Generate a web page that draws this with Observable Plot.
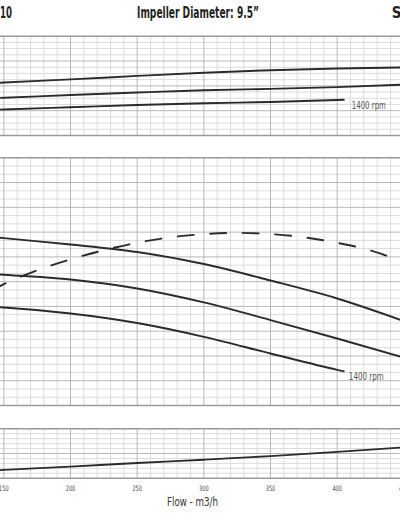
<!DOCTYPE html>
<html><head><meta charset="utf-8">
<script src="https://cdn.jsdelivr.net/npm/d3@7"></script>
<script src="https://cdn.jsdelivr.net/npm/@observablehq/plot@0.6"></script>
<style>
html,body{margin:0;padding:0;background:#fff;overflow:hidden}
#chart{position:relative;width:400px;height:516px;overflow:hidden;font-family:"Liberation Sans Narrow","Arial Narrow","DejaVu Sans Condensed",sans-serif}
.panel{position:absolute;left:0}
.hdr{position:absolute;top:4px;font-weight:bold;font-size:15px;color:#231f20;line-height:18px;white-space:nowrap}
</style></head><body><div id="chart"></div>
<script>
// ---- text ----
const titleText = "Impeller Diameter: 9.5\u201D";
const leftHeader = "10";
const rightHeader = "S";
const xLabel = "Flow - m3/h";
const speedLabel = "1400 rpm";
const flowTicks = [150, 200, 250, 300, 350, 400, 450];

// ---- power panel (top) ----
const powerFlow = [145, 150, 200, 250, 300, 350, 400, 450];
const powerHigh = [21.2, 21.35, 22.6, 24.0, 25.3, 26.3, 27.0, 27.4];
const powerMid = [15.1, 15.2, 16.3, 17.3, 18.2, 18.8, 19.5, 20.5];
const power1400Flow = [145, 150, 200, 250, 300, 350, 400, 405];
const power1400 = [10.4, 10.5, 11.4, 12.3, 13.0, 13.5, 14.3, 14.4];

// ---- head panel (middle) ----
const headFlow = [145, 150, 200, 250, 300, 350, 400, 450];
const headHigh = [20.35, 20.27, 19.5, 18.59, 17.14, 15.14, 12.96, 10.23];
const headMid = [15.9, 15.84, 15.26, 14.17, 12.49, 10.35, 8.11, 5.81];
const head1400Flow = [145, 150, 200, 250, 300, 350, 400, 405];
const head1400 = [11.92, 11.87, 11.14, 9.99, 8.32, 6.30, 4.32, 4.14];

// ---- efficiency (dashed, % ; 100% = top of head panel) ----
const effFlow = [145, 150, 175, 200, 225, 250, 275, 300, 325, 350, 375, 400, 425, 437];
const effPct = [47.6, 49.0, 54.6, 59.0, 62.7, 65.7, 67.9, 69.2, 69.7, 69.2, 67.9, 65.7, 62.6, 60.5];

// ---- NPSH panel (bottom) ----
const npshFlow = [145, 150, 200, 250, 300, 350, 400, 450];
const npsh = [1.6, 1.68, 2.35, 3.08, 3.74, 4.47, 5.32, 6.25];

const zip = (xs, ys) => xs.map((x, i) => ({x, y: ys[i]}));
const HEAD_MAX = 30;
const effToHead = HEAD_MAX / 100;

const chart = document.getElementById("chart");
const FONT = '"Liberation Sans Narrow","Arial Narrow","DejaVu Sans Condensed",sans-serif';
const minorC = "#dcdcdc", majorC = "#b8b8b8", borderC = "#9a9a9a", curveC = "#2b2b2b";
const xDomain = [147.5, 447.5];
const minorX = d3.range(150, 451, 10).filter(v => v % 50 !== 0);
const majorX = d3.range(150, 451, 50);

function grid(ymax, minorStep, majorStep) {
  const all = d3.range(0, ymax + 1e-9, minorStep).map(v => +v.toFixed(4));
  const isMajor = v => Math.abs(v / majorStep - Math.round(v / majorStep)) < 1e-6;
  return [
    Plot.ruleX(minorX, {stroke: minorC, strokeWidth: 1}),
    Plot.ruleY(all.filter(v => !isMajor(v)), {stroke: minorC, strokeWidth: 1}),
    Plot.ruleX(majorX, {stroke: majorC, strokeWidth: 1}),
    Plot.ruleY(all.filter(v => isMajor(v) && v > 0 && v < ymax - 1e-9), {stroke: majorC, strokeWidth: 1}),
    Plot.ruleY([0, ymax], {stroke: borderC, strokeWidth: 1.5})
  ];
}
const curve = (data, extra = {}) => Plot.line(data, {x: "x", y: "y", stroke: curveC, strokeWidth: 1.9, curve: "monotone-x", ...extra});

function place(svg, top) {
  svg.classList.add("panel");
  svg.style.top = top + "px";
  chart.appendChild(svg);
}
// squeeze texts to a condensed width
function fit(svg, match, len) {
  d3.select(svg).selectAll("text").filter(function() { return match(this.textContent); })
    .attr("textLength", len).attr("lengthAdjust", "spacingAndGlyphs");
}

// top panel: plot area 35.7 .. 135
const p1 = Plot.plot({
  width: 400, height: 105, marginLeft: 0, marginRight: 0, marginTop: 2.7, marginBottom: 3,
  style: {fontFamily: FONT, background: "transparent"},
  x: {domain: xDomain, axis: null},
  y: {domain: [0, 40], axis: null},
  marks: [
    ...grid(40, 2.5, 10),
    curve(zip(powerFlow, powerHigh)),
    curve(zip(powerFlow, powerMid)),
    curve(zip(power1400Flow, power1400)),
    Plot.text([{x: power1400Flow.at(-1), y: power1400.at(-1), t: speedLabel}],
      {x: "x", y: "y", text: "t", textAnchor: "start", dx: 8, dy: 6, fontSize: 10, fill: "#555"})
  ]
});
fit(p1, s => s === speedLabel, 34);
place(p1, 33);

// middle panel: plot area 157.3 .. 405
const p2 = Plot.plot({
  width: 400, height: 253, marginLeft: 0, marginRight: 0, marginTop: 2.3, marginBottom: 3,
  style: {fontFamily: FONT, background: "transparent"},
  x: {domain: xDomain, axis: null},
  y: {domain: [0, HEAD_MAX], axis: null},
  marks: [
    ...grid(HEAD_MAX, 1, 3),
    curve(zip(headFlow, headHigh)),
    curve(zip(headFlow, headMid)),
    curve(zip(head1400Flow, head1400)),
    curve(effFlow.map((x, i) => ({x, y: effPct[i] * effToHead})), {strokeDasharray: "16 16.5", strokeDashoffset: 6.5}),
    Plot.text([{x: head1400Flow.at(-1), y: head1400.at(-1), t: speedLabel}],
      {x: "x", y: "y", text: "t", textAnchor: "start", dx: 5, dy: 5.5, fontSize: 10, fill: "#555"})
  ]
});
fit(p2, s => s === speedLabel, 35);
place(p2, 155);

// bottom panel: plot area 428.3 .. 477.7, plus axis
const p3 = Plot.plot({
  width: 400, height: 90, marginLeft: 0, marginRight: 0, marginTop: 2.3, marginBottom: 38.3,
  style: {fontFamily: FONT, fontSize: "7.5px", color: "#444", background: "transparent"},
  x: {domain: xDomain, ticks: flowTicks, tickSize: 0, tickPadding: 7, tickFormat: d => String(d), label: null},
  y: {domain: [0, 10], axis: null},
  marks: [
    ...grid(10, 1, 5),
    curve(zip(npshFlow, npsh)),
    Plot.text([xLabel], {frameAnchor: "bottom", text: d => d, dy: 27.3, dx: -8, fontSize: 13, fill: "#333"})
  ]
});
fit(p3, s => /^\d+$/.test(s), 9.5);
fit(p3, s => s === xLabel, 51);
place(p3, 426);

// header texts
function hdr(text, left) {
  const d = document.createElement("div");
  d.className = "hdr";
  d.textContent = text;
  d.style.left = left + "px";
  chart.appendChild(d);
  return d;
}
const t = hdr(titleText, 0);
const w = t.getBoundingClientRect().width;
t.style.transformOrigin = "0 0";
t.style.left = (197.5 - 61) + "px";
t.style.transform = `scaleX(${122 / w})`;
const l = hdr(leftHeader, 0);
l.style.transformOrigin = "0 0";
l.style.transform = `scaleX(${12 / l.getBoundingClientRect().width})`;
hdr(rightHeader, 391.7);
</script></body></html>
